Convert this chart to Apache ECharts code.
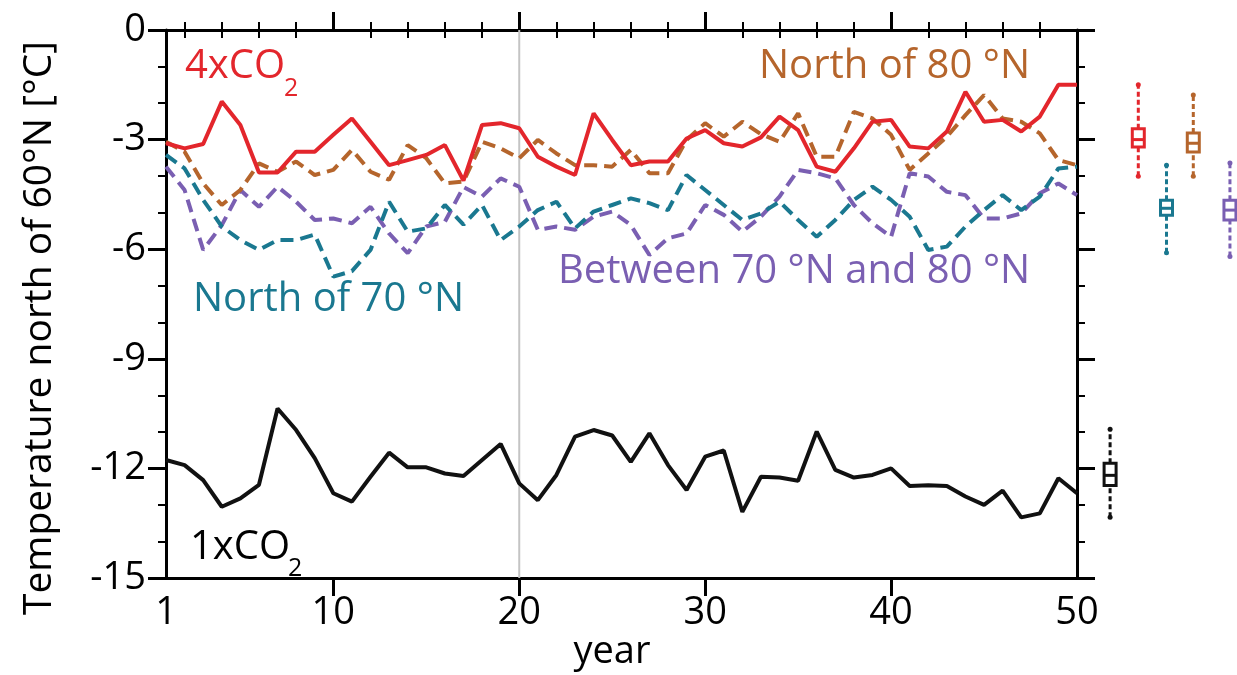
<!DOCTYPE html>
<html>
<head>
<meta charset="utf-8">
<script src="https://cdn.jsdelivr.net/npm/echarts@6/dist/echarts.min.js"></script>
<style>html,body{margin:0;background:#fff}#main{width:1237px;height:675px}</style>
</head>
<body>
<div id="main"></div>
<script>
var years = [1,2,3,4,5,6,7,8,9,10,11,12,13,14,15,16,17,18,19,20,21,22,23,24,25,
  26,27,28,29,30,31,32,33,34,35,36,37,38,39,40,41,42,43,44,45,46,47,48,49,50];

var co2x4 = [-3.1,-3.24,-3.12,-1.96,-2.6,-3.9,-3.9,-3.33,-3.33,-2.87,-2.42,-3.06,-3.7,-3.56,-3.42,-3.15,-4.12,
  -2.6,-2.55,-2.69,-3.47,-3.74,-3.97,-2.28,-3.01,-3.7,-3.6,-3.6,-2.97,-2.74,-3.1,-3.19,-2.94,
  -2.37,-2.74,-3.74,-3.88,-3.24,-2.51,-2.46,-3.19,-3.24,-2.78,-1.69,-2.51,-2.46,-2.78,-2.37,-1.5,-1.5];

var north80 = [-3.06,-3.33,-4.2,-4.79,-4.38,-3.65,-3.88,-3.6,-3.97,-3.83,-3.28,-3.88,-4.1,-3.15,-3.51,-4.2,-4.15,
  -3.06,-3.24,-3.51,-3.01,-3.38,-3.7,-3.7,-3.74,-3.28,-3.92,-3.92,-3.01,-2.55,-2.92,-2.51,-2.85,
  -3.06,-2.28,-3.47,-3.47,-2.24,-2.42,-2.87,-3.83,-3.38,-2.92,-2.33,-1.78,-2.42,-2.51,-2.83,-3.56,-3.7];

var north70 = [-3.42,-3.79,-4.65,-5.38,-5.75,-6.02,-5.75,-5.75,-5.6,-6.75,-6.6,-6.02,-4.7,-5.52,-5.43,-4.79,-5.33,
  -4.79,-5.75,-5.38,-4.93,-4.7,-5.43,-4.97,-4.79,-4.61,-4.74,-4.93,-3.97,-4.38,-4.79,-5.2,-5.02,
  -4.7,-5.2,-5.66,-5.2,-4.65,-4.29,-4.65,-5.11,-6.02,-5.93,-5.38,-4.93,-4.52,-4.93,-4.56,-3.79,-3.74];

var band7080 = [-3.74,-4.38,-6.02,-5.34,-4.38,-4.84,-4.29,-4.7,-5.2,-5.16,-5.29,-4.84,-5.57,-6.11,-5.38,-5.25,-4.3,
  -4.56,-4.06,-4.29,-5.47,-5.38,-5.47,-5.11,-4.97,-5.34,-6.16,-5.7,-5.57,-4.79,-5.06,-5.52,-5.11,
  -4.56,-3.83,-3.92,-4.06,-4.79,-5.29,-5.66,-3.92,-4.01,-4.43,-4.52,-5.16,-5.16,-5.02,-4.47,-4.2,-4.52];

var co2x1 = [-11.77,-11.91,-12.32,-13.05,-12.82,-12.45,-10.36,-10.95,-11.72,-12.68,-12.91,-12.23,-11.57,-11.97,-11.97,
  -12.14,-12.21,-11.77,-11.33,-12.41,-12.87,-12.18,-11.13,-10.95,-11.1,-11.82,-11.04,-11.91,-12.59,-11.68,
  -11.51,-13.19,-12.23,-12.25,-12.34,-10.99,-12.04,-12.25,-12.18,-12.0,-12.48,-12.46,-12.48,-12.77,-13.0,
  -12.61,-13.34,-13.23,-12.27,-12.68];

// distribution summaries drawn to the right of the frame: min, q1, median, q3, max
var boxSlots = [0.5, 1.5, 2.5, 3.45, 4.75];
var boxStats = [
  [-13.34, -12.47, -12.19, -11.86, -10.93],
  [-4.0, -3.2, -3.0, -2.7, -1.5],
  [-6.1, -5.07, -4.88, -4.66, -3.7],
  [-4.0, -3.34, -3.1, -2.82, -1.78],
  [-6.2, -5.2, -4.93, -4.66, -3.64]
];

var xLabels = [1, 10, 20, 30, 40, 50];
var xMajor = [10, 20, 30, 40];
var xMinor = [2,4,6,8,12,14,16,18,22,24,26,28,32,34,36,38,42,44,46,48];
var refYear = 20;

var RED = '#e3262c', ORANGE = '#b5652c', TEAL = '#1a7890', PURPLE = '#7a5fb2', BLACK = '#111';
var boxColors = [BLACK, RED, TEAL, ORANGE, PURPLE];
var FONT = 'Open Sans';

function pairs(vals) {
  return years.map(function (y, i) { return [y, vals[i]]; });
}

function renderBox(params, api) {
  var x = api.value(0);
  var lo = api.coord([x, api.value(1)]);
  var q1 = api.coord([x, api.value(2)]);
  var md = api.coord([x, api.value(3)]);
  var q3 = api.coord([x, api.value(4)]);
  var hi = api.coord([x, api.value(5)]);
  var c = boxColors[params.dataIndex];
  var w = 12;
  var dash = { stroke: c, lineWidth: 3, lineDash: [5, 3] };
  return {
    type: 'group',
    children: [
      { type: 'line', shape: { x1: lo[0], y1: lo[1], x2: q1[0], y2: q1[1] }, style: dash },
      { type: 'line', shape: { x1: q3[0], y1: q3[1], x2: hi[0], y2: hi[1] }, style: dash },
      { type: 'rect', shape: { x: q3[0] - w / 2, y: q3[1], width: w, height: q1[1] - q3[1] },
        style: { fill: '#fff', stroke: c, lineWidth: 3 } },
      { type: 'line', shape: { x1: md[0] - w / 2, y1: md[1], x2: md[0] + w / 2, y2: md[1] },
        style: { stroke: c, lineWidth: 3 } },
      { type: 'circle', shape: { cx: lo[0], cy: lo[1], r: 2.5 }, style: { fill: c } },
      { type: 'circle', shape: { cx: hi[0], cy: hi[1], r: 2.5 }, style: { fill: c } }
    ]
  };
}

var chartDom = document.getElementById('main');
var myChart = echarts.init(chartDom);

var frameLine = { onZero: false, lineStyle: { color: '#000', width: 3 } };
var majorTick = { length: 18, lineStyle: { color: '#000', width: 3 } };
var minorTick = { length: 8, lineStyle: { color: '#000', width: 2 } };

function xAxisPart(pos, ticks, tickStyle, showLine, labels) {
  return {
    gridIndex: 0, type: 'value', min: 1, max: 50, position: pos,
    axisLine: showLine ? frameLine : { show: false },
    axisTick: Object.assign({ customValues: ticks, inside: false }, tickStyle),
    axisLabel: labels ? { customValues: labels, fontSize: 38, color: '#000', margin: 16, fontFamily: FONT }
                      : { show: false },
    splitLine: { show: false }
  };
}

function lineSeries(name, vals, color, dashed) {
  return {
    name: name, type: 'line', xAxisIndex: 0, yAxisIndex: 0,
    data: pairs(vals), symbol: 'none', z: 3,
    lineStyle: { color: color, width: 4, type: dashed ? [13, 7] : 'solid' }
  };
}

function label(text, x, y, color, size, align) {
  return {
    type: 'text', x: x, y: y,
    style: { text: text, fontSize: size, fontFamily: FONT, fill: color,
             align: align || 'left', verticalAlign: 'middle' }
  };
}

var option = {
  animation: false,
  backgroundColor: '#fff',
  grid: [
    { left: 166, right: 160, top: 30, bottom: 97 },
    { left: 1096, right: 0, top: 30, bottom: 97 }
  ],
  xAxis: [
    xAxisPart('bottom', xMajor, majorTick, true, xLabels),
    xAxisPart('bottom', xMinor, minorTick, false, null),
    xAxisPart('top', xMajor, majorTick, true, null),
    xAxisPart('top', xMinor, minorTick, false, null),
    { gridIndex: 1, type: 'value', min: 0, max: 5, show: false }
  ],
  yAxis: [
    {
      gridIndex: 0, type: 'value', min: -15, max: 0, interval: 3, position: 'left',
      axisLine: frameLine, axisTick: majorTick,
      minorTick: { show: true, splitNumber: 3, length: 8, lineStyle: { color: '#000', width: 2 } },
      axisLabel: { fontSize: 38, color: '#000', margin: 20, fontFamily: FONT },
      splitLine: { show: false }, minorSplitLine: { show: false }
    },
    {
      gridIndex: 0, type: 'value', min: -15, max: 0, interval: 3, position: 'right',
      axisLine: frameLine, axisTick: majorTick,
      minorTick: { show: true, splitNumber: 3, length: 8, lineStyle: { color: '#000', width: 2 } },
      axisLabel: { show: false },
      splitLine: { show: false }, minorSplitLine: { show: false }
    },
    { gridIndex: 1, type: 'value', min: -15, max: 0, show: false }
  ],
  series: [
    {
      type: 'line', xAxisIndex: 0, yAxisIndex: 0, z: 1, symbol: 'none', silent: true,
      data: [[refYear, -15], [refYear, 0]],
      lineStyle: { color: '#c4c4c4', width: 2 }
    },
    lineSeries('1xCO2', co2x1, BLACK, false),
    lineSeries('Between 70N and 80N', band7080, PURPLE, true),
    lineSeries('North of 70N', north70, TEAL, true),
    lineSeries('North of 80N', north80, ORANGE, true),
    lineSeries('4xCO2', co2x4, RED, false),
    {
      type: 'custom', xAxisIndex: 4, yAxisIndex: 2, clip: false,
      renderItem: renderBox,
      data: boxSlots.map(function (s, i) { return [s].concat(boxStats[i]); })
    }
  ],
  graphic: [
    { type: 'text', x: 40, y: 328, rotation: Math.PI / 2,
      style: { text: 'Temperature north of 60°N [°C]', fontSize: 39, fontFamily: FONT, fill: '#000',
               align: 'center', verticalAlign: 'middle' } },
    label('year', 612, 652, '#000', 38, 'center'),
    label('4xCO', 185, 67, RED, 40),
    label('2', 284, 89, RED, 25),
    label('North of 80 °N', 1030, 67, ORANGE, 40, 'right'),
    label('North of 70 °N', 193, 300, TEAL, 40),
    label('Between 70 °N and 80 °N', 558, 272, PURPLE, 40),
    label('1xCO', 190, 548, '#000', 40),
    label('2', 288, 569, '#000', 25)
  ]
};

myChart.setOption(option);
</script>
</body>
</html>
